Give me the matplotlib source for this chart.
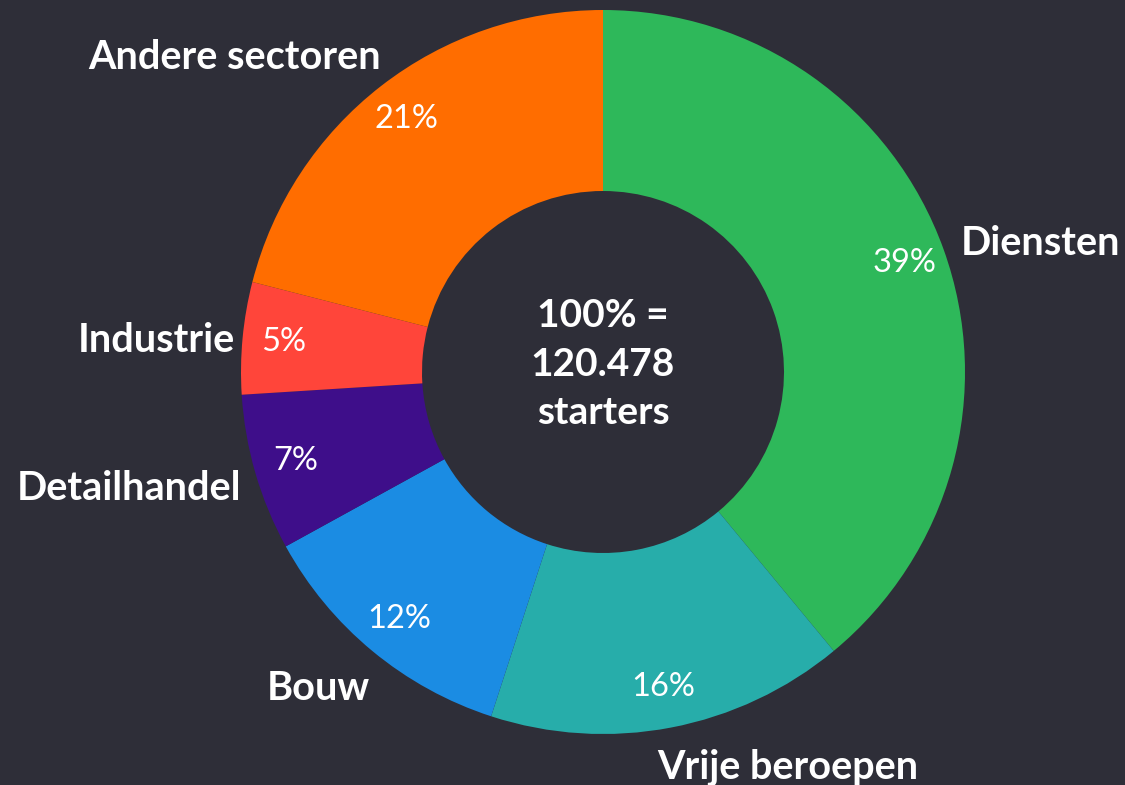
import numpy as np
import matplotlib.pyplot as plt

# Data
sectoren = ['Diensten', 'Vrije beroepen', 'Bouw', 'Detailhandel', 'Industrie', 'Andere sectoren']
aandeel = [39, 16, 12, 7, 5, 21]
kleuren = ['#2eb85a', '#27adaa', '#1b8ce3', '#3e0e8a', '#ff453a', '#ff6d00']
totaal_tekst = '100% =\n120.478\nstarters'

# label placement (radius factor, nudge in px)
label_r = [1.05, 1.09, 1.09, 1.05, 1.02, 1.07]
label_nudge = [(0, 0), (-20, -8), (18, -12), (3, -10), (0, -3), (15, 8)]

bg = '#2e2e38'
plt.rcParams['font.family'] = ['Lato', 'DejaVu Sans']

fig = plt.figure(figsize=(11.25, 7.85), dpi=100, facecolor=bg)
ax = fig.add_axes([0, 0, 1, 1])
ax.set_facecolor(bg)

R = 362
cx, cy = 603, 372
wedges, _, pcts = ax.pie(aandeel, colors=kleuren, startangle=90, counterclock=False,
                         radius=R, center=(0, 0), autopct='%d%%', pctdistance=0.885,
                         wedgeprops=dict(width=R * 0.5, linewidth=0),
                         textprops=dict(color='white', fontsize=23.5))
ax.set_xlim(-cx, 1125 - cx)
ax.set_ylim(-(785 - cy), cy)
ax.set_aspect('equal')
ax.axis('off')

for w, naam, f, (ndx, ndy) in zip(wedges, sectoren, label_r, label_nudge):
    hoek = np.deg2rad((w.theta1 + w.theta2) / 2)
    x = np.cos(hoek) * R * f + ndx
    y = np.sin(hoek) * R * f + ndy
    ax.text(x, y, naam, ha='left' if x > 0 else 'right', va='center',
            color='white', fontsize=28.5, fontweight='bold')

ax.text(0, 8, totaal_tekst, ha='center', va='center', color='white',
        fontsize=28, fontweight='bold', linespacing=1.45)

fig.savefig('out.png', dpi=100, facecolor=bg)
